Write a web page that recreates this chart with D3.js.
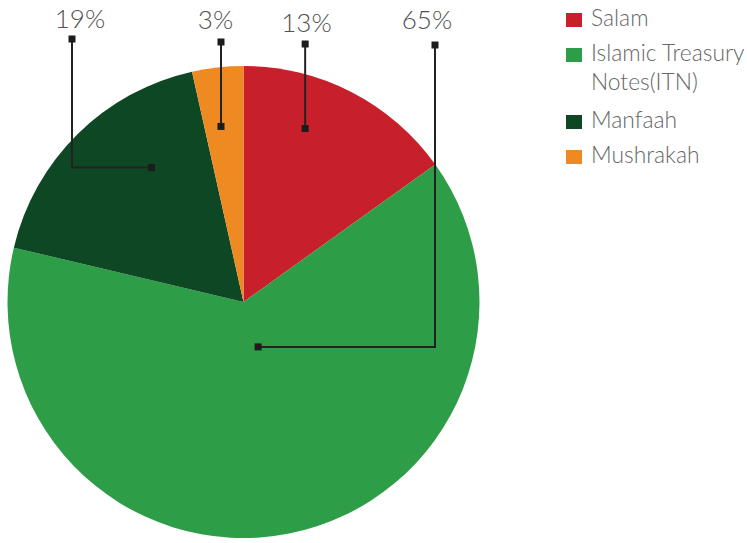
<!DOCTYPE html>
<html>
<head>
<meta charset="utf-8">
<script src="https://cdn.jsdelivr.net/npm/d3@7"></script>
<style>
  body { margin: 0; background: #fff; }
  svg { display: block; font-family: Lato, "Open Sans", sans-serif; }
</style>
</head>
<body>
<svg id="chart" width="747" height="543"></svg>
<script>
// slice data (angles as drawn)
const categories = ['Salam', 'Islamic Treasury Notes(ITN)', 'Manfaah', 'Mushrakah']
const values = [15.1, 63.6, 17.8, 3.5]
const pctLabels = ['13%', '65%', '19%', '3%']
const colors = ['#c8202a', '#2e9d48', '#0e4723', '#ef8a22']
// legend text split in lines
const legendLines = [['Salam'], ['Islamic Treasury', 'Notes(ITN)'], ['Manfaah'], ['Mushrakah']]

const svg = d3.select("#chart")
const cx = 243.5, cy = 302, radius = 236

const pie = d3.pie().sort(null).value(d => d)
const arcs = pie(values)

const arc = d3.arc().innerRadius(0).outerRadius(radius)

const g = svg.append('g').attr('transform', `translate(${cx},${cy})`)

g.selectAll('path')
    .data(arcs)
    .enter()
    .append('path')
        .attr('d', arc)
        .attr('fill', (d, i) => colors[i])

// leader anchors: position inside slice (t = fraction of angle, r = fraction of radius)
// elbowX = x of the vertical run (null = straight up), label at (labelX, labelY)
const leaders = [
    { t: 0.36, r: 0.78, elbowX: null, topY: 44, labelX: 306.5, labelY: 32 },
    { t: 0.47, r: 0.20, elbowX: 435, topY: 45, labelX: 427, labelY: 29 },
    { t: 0.66, r: 0.69, elbowX: 72, topY: 39, labelX: 80, labelY: 28 },
    { t: 0.42, r: 0.75, elbowX: null, topY: 42, labelX: 215.5, labelY: 29 }
]

const lg = svg.append('g')
arcs.forEach((a, i) => {
    const L = leaders[i]
    const ang = a.startAngle + (a.endAngle - a.startAngle) * L.t
    const px = cx + Math.sin(ang) * radius * L.r
    const py = cy - Math.cos(ang) * radius * L.r
    const vx = L.elbowX == null ? px : L.elbowX
    const pts = L.elbowX == null
        ? [[px, py], [vx, L.topY]]
        : [[px, py], [vx, py], [vx, L.topY]]

    lg.append('path')
        .attr('d', d3.line()(pts))
        .attr('fill', 'none')
        .attr('stroke', '#222')
        .attr('stroke-width', 2)

    lg.append('rect')
        .attr('x', px - 3.5).attr('y', py - 3.5)
        .attr('width', 7).attr('height', 7)
        .attr('fill', '#1c1c1c')
    lg.append('rect')
        .attr('x', vx - 3.5).attr('y', L.topY - 3.5)
        .attr('width', 7).attr('height', 7)
        .attr('fill', '#1c1c1c')

    lg.append('text')
        .attr('x', L.labelX)
        .attr('y', L.labelY)
        .attr('text-anchor', 'middle')
        .attr('font-size', 26)
        .attr('font-weight', 300)
        .attr('fill', '#505050')
        .text(pctLabels[i])
})

// legend
const legendY = [26, 61, 128, 163]
const leg = svg.append('g')
categories.forEach((c, i) => {
    leg.append('rect')
        .attr('x', 566).attr('y', legendY[i] - 13)
        .attr('width', 16).attr('height', 14)
        .attr('fill', colors[i])
    legendLines[i].forEach((line, j) => {
        leg.append('text')
            .attr('x', 591)
            .attr('y', legendY[i] + j * 29)
            .attr('font-size', 22.8)
            .attr('font-weight', 300)
            .attr('fill', '#666')
            .text(line)
    })
})
</script>
</body>
</html>
